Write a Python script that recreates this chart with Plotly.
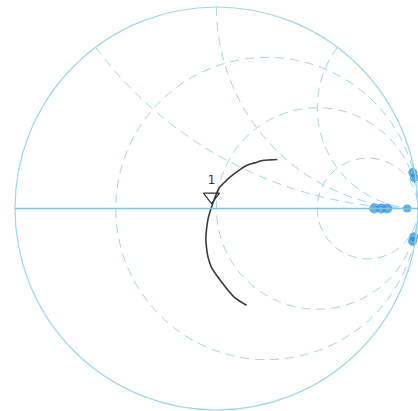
import plotly.graph_objects as go

# Normalized impedance locus (z = r + jx)
trace_r = [0.783, 0.779, 0.790, 0.799, 0.805, 0.822, 0.843, 0.862, 0.884, 0.915, 0.951,
           0.980, 1.008, 1.045, 1.081, 1.145, 1.212, 1.290, 1.366, 1.460, 1.556]
trace_x = [-1.006, -0.861, -0.770, -0.688, -0.514, -0.420, -0.339, -0.265, -0.196, -0.095, 0.0095,
           0.110, 0.212, 0.275, 0.340, 0.445, 0.554, 0.640, 0.729, 0.810, 0.890]

# Marker 1
marker_r = [0.945]
marker_x = [0.112]
marker_label = ["1"]

# Bright spots near the right edge
spot_r = [8.2, 10.0, 12.1, 36.0, 0.6, 0.55, 1.0, 1.1]
spot_x = [0.0, 0.0, 0.0, 0.0, 11.0, 13.0, -12.0, -14.0]

# Grid values
real_grid = [1/3, 1, 3]
imag_grid = [0.5, 1, 2]

fig = go.Figure()
fig.add_trace(go.Scattersmith(
    real=trace_r, imag=trace_x, mode="lines",
    line=dict(color="#3a3a3a", width=1.6, shape="spline"),
    showlegend=False, hoverinfo="skip"))
fig.add_trace(go.Scattersmith(
    real=spot_r, imag=spot_x, mode="markers", cliponaxis=False,
    marker=dict(color="#1f8fe3", size=[10, 10, 10, 8, 9, 9, 9, 9], symbol="circle",
                line=dict(width=0)),
    showlegend=False, hoverinfo="skip"))
fig.add_trace(go.Scattersmith(
    real=marker_r, imag=marker_x, mode="markers+text",
    text=marker_label, textposition="top center",
    textfont=dict(family="DejaVu Sans", size=12, color="#333333"),
    marker=dict(symbol="triangle-down-open", size=14, color="#333333",
                line=dict(width=1.2, color="#333333")),
    showlegend=False, hoverinfo="skip"))

grid_color = "#a3d5e0"
fig.update_layout(
    width=418, height=411,
    margin=dict(l=0, r=0, t=0, b=0),
    paper_bgcolor="white",
    smith=dict(
        domain=dict(x=[15/418, 1.0], y=[1/411, 404/411]),
        bgcolor="white",
        realaxis=dict(
            tickvals=real_grid, showticklabels=False, ticks="",
            gridcolor=grid_color, griddash="9px,6px", gridwidth=1,
            showline=True, linecolor="#7cc6d8", linewidth=1.3),
        imaginaryaxis=dict(
            tickvals=imag_grid, showticklabels=False, ticks="",
            gridcolor=grid_color, griddash="9px,6px", gridwidth=1,
            showline=True, linecolor="#9fd8e4", linewidth=1.2),
    ),
)

fig.write_html(
    "out.html",
    config={"displayModeBar": False},
    post_script="document.body.style.margin='0';document.body.style.overflow='hidden';",
)
